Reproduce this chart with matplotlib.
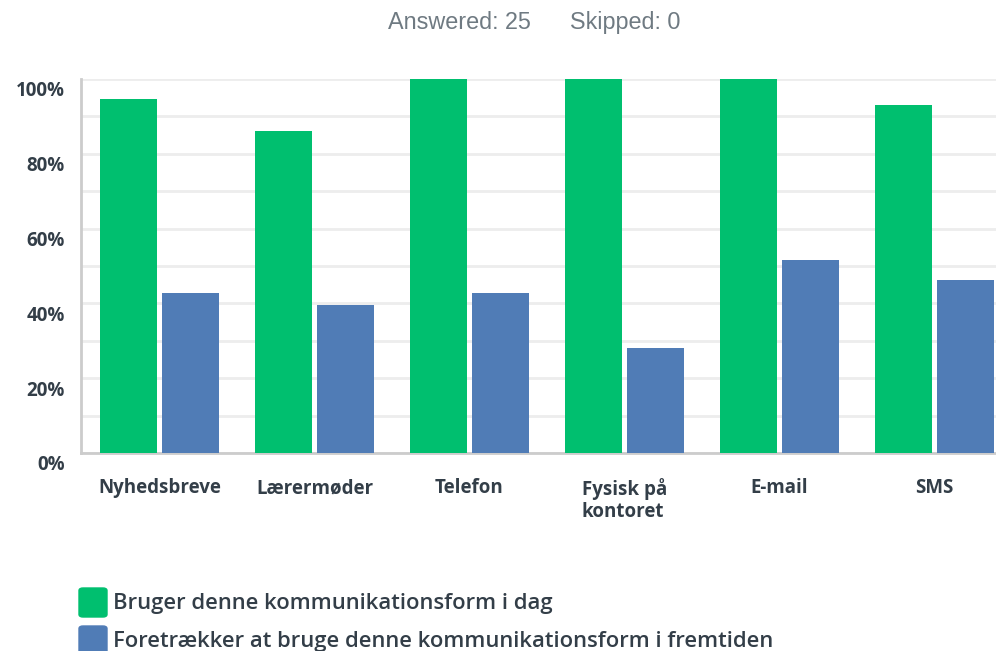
import matplotlib.pyplot as plt
import matplotlib.patches as mpatches
import matplotlib.transforms as mtransforms
import numpy as np

categories = ['Nyhedsbreve', 'Lærermøder', 'Telefon', 'Fysisk på\nkontoret', 'E-mail', 'SMS']
today = [94.7, 86.1, 100, 100, 100, 93.1]
future = [42.8, 39.6, 42.8, 28.1, 51.6, 46.3]
series_labels = ['Bruger denne kommunikationsform i dag',
                 'Foretrækker at bruge denne kommunikationsform i fremtiden']
colors = ['#00bf6f', '#507cb6']
yticks = [0, 20, 40, 60, 80, 100]

W, H = 996, 651
dark = '#333e48'
fig = plt.figure(figsize=(W / 100, H / 100), dpi=100)
ax = fig.add_axes([81 / W, (H - 453) / H, (W - 81) / W, (453 - 79) / H])

x = np.arange(len(categories))
bw = 57 / 155
ax.bar(x - 0.2, today, width=bw, color=colors[0], zorder=3)
ax.bar(x + 0.2, future, width=bw, color=colors[1], zorder=3)

ax.set_xlim(-0.506, 5.397)
ax.set_ylim(0, 100)
ax.set_yticks(yticks)
ax.set_yticklabels(['{}%'.format(t) for t in yticks])
ax.set_yticks(range(10, 100, 20), minor=True)
ax.grid(axis='y', which='both', color='#ededed', linewidth=2, zorder=0)
ax.tick_params(axis='y', which='both', length=0, pad=11.5)
ax.tick_params(axis='x', length=0, pad=18)
ax.set_xticks(x)
ax.set_xticklabels(categories, multialignment='left', linespacing=1.15)

# y labels sit a little below their gridline in the original
offset = mtransforms.ScaledTranslation(0, -10 / 100, fig.dpi_scale_trans)
for lab in ax.get_yticklabels() + ax.get_xticklabels():
    lab.set_fontfamily('Open Sans')
    lab.set_fontweight('bold')
    lab.set_fontsize(13.5)
    lab.set_color(dark)
for lab in ax.get_yticklabels():
    lab.set_transform(lab.get_transform() + offset)

for s in ['top', 'right']:
    ax.spines[s].set_visible(False)
for s in ['left', 'bottom']:
    ax.spines[s].set_color('#cccccc')
    ax.spines[s].set_linewidth(2)

fig.text(534 / W, 1 - 23 / H, 'Answered: 25      Skipped: 0', ha='center', va='center',
         fontsize=16.8, color='#6f7a82', family='Liberation Sans')

for i, (lbl, c) in enumerate(zip(series_labels, colors)):
    y0 = 588 + i * 38
    fig.patches.append(mpatches.FancyBboxPatch(
        (79 / W, 1 - (y0 + 29) / H), 28 / W, 29 / H,
        boxstyle='round,pad=0,rounding_size=0.004', transform=fig.transFigure,
        color=c, figure=fig))
    fig.text(113 / W, 1 - (y0 + 15) / H, lbl, ha='left', va='center', fontsize=15.8,
             family='Open Sans', fontweight='semibold', color=dark)

fig.savefig('out.png', dpi=100)
